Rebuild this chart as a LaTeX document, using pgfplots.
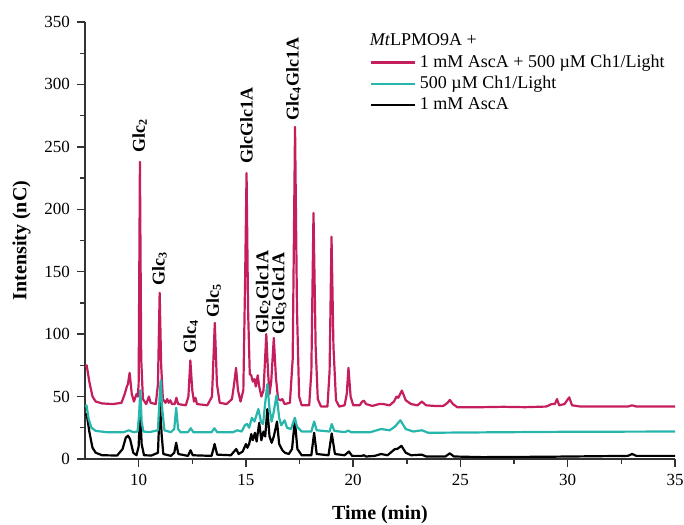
\documentclass[border=0pt]{standalone}
\usepackage{fontspec}
\setmainfont{Liberation Serif}
\usepackage{pgfplots}
\pgfplotsset{compat=1.18}
\definecolor{lpmored}{RGB}{196,30,94}
\definecolor{lpmocyan}{RGB}{38,182,172}

\begin{document}
\begin{tikzpicture}
\begin{axis}[
    width=295pt, height=218.5pt, scale only axis,
    xmin=7.5, xmax=35, ymin=0, ymax=350,
    axis lines=left,
    axis line style={-, line width=0.8pt, black!80},
    xtick={10,15,...,35}, ytick={0,50,...,350},
    minor x tick num=1, minor y tick num=1,
    tick align=outside, major tick length=4pt, minor tick length=2.5pt,
    tick style={black!80, line width=0.7pt},
    ticklabel style={font=\fontsize{8.5}{10}\selectfont},
    /pgf/number format/assume math mode=true,
    xlabel={\bfseries Time (min)},
    ylabel={\bfseries Intensity (nC)},
    label style={font=\fontsize{10}{12}\selectfont},
    xlabel style={yshift=-3pt},
    legend style={at={(0.482,0.935)}, anchor=north west, draw=none, fill=none,
        font=\fontsize{9}{11}\selectfont, row sep=-1pt, inner sep=0pt},
    legend cell align=left,
    legend image code/.code={\draw[#1] (0pt,0pt) -- (22pt,0pt);},
    every axis plot/.append style={line width=1.1pt, line join=round},
]
% legend order: red, cyan, black
\addlegendimage{lpmored, line width=1.1pt}
\addlegendentry{1 mM AscA + 500 µM Ch1/Light}
\addlegendimage{lpmocyan, line width=1.1pt}
\addlegendentry{500 µM Ch1/Light}
\addlegendimage{black, line width=1.1pt}
\addlegendentry{1 mM AscA}

% 1 mM AscA + 500 uM Ch1/Light
\addplot[lpmored, forget plot] coordinates {
(7.5,74) (7.58,75) (7.7,62) (7.85,50) (8.0,46) (8.3,44.5) (8.8,44) (9.2,45)
(9.35,52) (9.45,58) (9.5,60) (9.58,69) (9.68,52) (9.78,46) (9.9,52) (9.96,50)
(10.0,60) (10.06,238) (10.12,80) (10.2,48) (10.35,44) (10.48,50) (10.56,45)
(10.8,44) (10.9,60) (10.98,133) (11.05,75) (11.13,48) (11.25,45) (11.33,48)
(11.4,45) (11.48,47) (11.55,44) (11.68,44) (11.76,49) (11.84,44) (12.2,43)
(12.32,50) (12.41,79) (12.5,55) (12.58,46) (12.65,49) (12.72,44) (13.2,43)
(13.42,50) (13.55,109) (13.65,60) (13.78,45) (14.1,44) (14.35,48) (14.45,60)
(14.54,73) (14.63,55) (14.75,46) (14.88,55) (14.96,140) (15.03,229) (15.1,120)
(15.18,68) (15.25,67) (15.32,62) (15.4,64) (15.46,58) (15.55,67) (15.62,58)
(15.72,50) (15.82,55) (15.88,75) (15.95,100) (16.03,70) (16.1,52) (16.18,62)
(16.3,97) (16.4,65) (16.5,48) (16.62,47) (16.7,48) (16.8,44) (17.05,45)
(17.18,80) (17.29,266) (17.38,120) (17.48,50) (17.6,43) (17.95,43) (18.05,70)
(18.15,197) (18.25,90) (18.35,48) (18.5,42) (18.8,42) (18.9,70) (18.99,178)
(19.08,90) (19.2,47) (19.35,42) (19.6,43) (19.7,52) (19.78,73) (19.88,50)
(20.0,43) (20.3,43) (20.42,46) (20.5,46.7) (20.6,44) (20.9,42.5) (21.2,44)
(21.4,44) (21.7,43) (21.9,46) (22.02,50) (22.1,49) (22.27,54.8) (22.45,47)
(22.7,44) (23.0,43) (23.2,46) (23.4,43) (23.8,42.5) (24.2,42.5) (24.4,45)
(24.5,47.3) (24.65,44) (24.85,41.5) (26,41.5) (27,41.8) (28,41.5) (29,42)
(29.25,44) (29.4,44) (29.5,48) (29.6,43) (29.85,44) (30.07,49.4) (30.2,43)
(30.6,42) (31.5,42) (32.8,42) (33,43) (33.2,42) (35,42)
};
% 1 mM AscA
\addplot[black, forget plot] coordinates {
(7.5,35) (7.58,36) (7.7,22) (7.85,9) (8.0,5) (8.3,3) (9.0,2.8) (9.25,8)
(9.4,17) (9.5,18.7) (9.6,16) (9.75,5) (9.9,3) (10.0,10) (10.07,40) (10.14,12)
(10.25,3) (10.6,2.8) (10.9,5) (10.99,45) (11.07,20) (11.15,4) (11.5,2.5)
(11.66,5) (11.75,13) (11.85,4) (12.3,2.5) (12.42,7) (12.52,3) (13.4,2.5)
(13.54,12) (13.66,3.5) (14.3,3) (14.45,6) (14.55,8) (14.66,4) (14.85,6)
(15.0,12) (15.07,9) (15.15,12) (15.25,20) (15.32,15) (15.42,21) (15.5,14)
(15.62,29) (15.72,15) (15.82,22) (15.9,18) (16.0,40) (16.1,18) (16.2,13)
(16.3,18) (16.45,30) (16.55,12) (16.7,7) (16.82,5) (17.0,4) (17.15,8)
(17.28,31) (17.4,8) (17.6,3) (18.05,3) (18.18,21) (18.3,4) (18.85,3)
(19.0,20.5) (19.15,4) (19.6,3) (19.8,6) (19.95,2.5) (20.4,2.5) (20.5,3)
(20.6,2) (21.0,2.5) (21.3,4) (21.6,3) (21.95,8) (22.05,8) (22.25,10.5)
(22.45,5) (22.7,3) (23.2,3.5) (23.4,2) (24.3,2) (24.5,4.5) (24.7,2) (26,1.5)
(29,1.8) (32.8,2.5) (33.0,4) (33.2,2.5) (35,2.5)
};
% 500 uM Ch1/Light
\addplot[lpmocyan, forget plot] coordinates {
(7.5,42) (7.57,43) (7.67,32) (7.8,25) (8.0,22.5) (8.5,21.5) (9.3,21.5)
(9.55,23) (9.75,21.5) (9.95,22) (10.02,35) (10.08,55) (10.14,30) (10.22,22)
(10.5,21.5) (10.9,23) (10.98,50) (11.03,63) (11.1,40) (11.2,23) (11.5,21.5)
(11.66,24) (11.75,41) (11.84,24) (11.95,21.5) (12.3,21.5) (12.43,24.6)
(12.55,21.5) (13.4,21.5) (13.53,24.6) (13.66,21.5) (14.4,21.5) (14.6,23)
(14.8,22) (14.95,27) (15.05,28) (15.15,25) (15.28,33) (15.4,30) (15.58,40)
(15.7,30) (15.8,28) (15.9,45) (16.0,60) (16.1,40) (16.2,30) (16.3,38)
(16.43,51) (16.55,33) (16.65,27) (16.8,31) (16.92,25) (17.1,24) (17.28,33)
(17.38,26) (17.6,22) (18.05,22) (18.18,30) (18.3,23) (18.9,22) (19.0,28)
(19.12,22.5) (19.6,21.5) (19.78,22.7) (19.9,21.5) (20.8,21.5) (21.3,24)
(21.7,23) (21.95,26) (22.2,31) (22.45,24) (22.8,22) (23.2,23) (23.5,21)
(25,21.2) (30,21.8) (35,22)
};

\node[anchor=west, font=\fontsize{9}{11}\selectfont, inner sep=0pt]
    at (rel axis cs:0.482,0.959) {\textit{Mt}LPMO9A +};

\begin{scope}[every node/.style={rotate=90, anchor=west, inner sep=0pt,
    font=\bfseries\fontsize{9}{10}\selectfont}]
\node at (axis cs:10.05,245) {Glc\textsubscript{2}};
\node at (axis cs:10.97,139) {Glc\textsubscript{3}};
\node at (axis cs:12.42,84) {Glc\textsubscript{4}};
\node at (axis cs:13.5,113) {Glc\textsubscript{5}};
\node at (axis cs:15.03,236) {GlcGlc1A};
\node at (axis cs:15.8,100) {Glc\textsubscript{2}Glc1A};
\node at (axis cs:16.55,99) {Glc\textsubscript{3}Glc1A};
\node at (axis cs:17.21,271) {Glc\textsubscript{4}Glc1A};
\end{scope}
\end{axis}
\pgfresetboundingbox
\path ([xshift=-42.5pt,yshift=-32.5pt]current axis.south west)
    rectangle ([xshift=4.5pt,yshift=11pt]current axis.north east);
\end{tikzpicture}
\end{document}
